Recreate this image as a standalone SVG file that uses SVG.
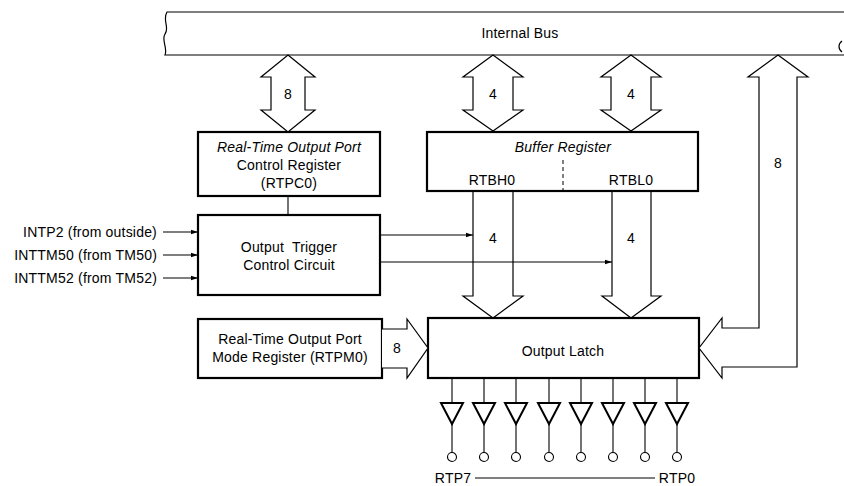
<svg xmlns="http://www.w3.org/2000/svg" xmlns:xlink="http://www.w3.org/1999/xlink" width="844" height="486" viewBox="0 0 844 486">
<style>
text{font-family:"Liberation Sans",Arial,sans-serif;font-size:14px;letter-spacing:0.2px;fill:#000}
.c{text-anchor:middle}
.r{text-anchor:end}
.i{font-style:italic}
.box{fill:#fff;stroke:#000;stroke-width:2.2}
.arw{fill:#fff;stroke:#000;stroke-width:1.2;stroke-linejoin:miter}
.ln{fill:none;stroke:#000;stroke-width:1.1}
.bus{fill:none;stroke:#000;stroke-width:1.2}
</style>
<defs>
<marker id="ah" markerWidth="8" markerHeight="6" refX="7" refY="3" orient="auto" markerUnits="userSpaceOnUse">
<path d="M0,0.8 L7,3 L0,5.2 Z" fill="#000"/>
</marker>
<g id="buf">
<line x1="0" y1="378" x2="0" y2="403" class="ln"/>
<path d="M-11,403 L11,403 L0,424 Z" fill="#fff" stroke="#000" stroke-width="2"/>
<line x1="0" y1="424" x2="0" y2="452.5" class="ln"/>
<circle cx="0" cy="457" r="4.5" fill="#fff" stroke="#000" stroke-width="1.1"/>
</g>
</defs>

<g id="internal-bus">
<path class="bus" d="M844,12 L167,12 C162,20 170,28 165,34 C161,40 168,48 165,55 L844,55"/>
<path class="bus" d="M842,41 C838,44 838,49 842,52"/>
<text class="c" x="520" y="38">Internal Bus</text>
</g>

<g id="rtpc0">
<rect class="box" x="198" y="132" width="182" height="64"/>
<text class="c i" x="289" y="152">Real-Time Output Port</text>
<text class="c" x="289" y="170">Control Register</text>
<text class="c" x="289" y="188">(RTPC0)</text>
</g>

<g id="trigger">
<rect class="box" x="198" y="215" width="182" height="80"/>
<text class="c" x="289" y="252" xml:space="preserve">Output  Trigger</text>
<text class="c" x="289" y="270">Control Circuit</text>
</g>

<g id="inputs">
<text class="r" x="157" y="237">INTP2 (from outside)</text>
<text class="r" x="157" y="260">INTTM50 (from TM50)</text>
<text class="r" x="157" y="283">INTTM52 (from TM52)</text>
</g>

<g id="buffer-register">
<rect class="box" x="427" y="132" width="271" height="59"/>
<text class="c i" x="563" y="152">Buffer Register</text>
<text class="c" x="492" y="185">RTBH0</text>
<text class="c" x="631" y="185">RTBL0</text>
<line x1="563" y1="160" x2="563" y2="191" stroke="#000" stroke-width="1" stroke-dasharray="4,3"/>
</g>

<g id="rtpm0">
<rect class="box" x="198" y="319" width="184" height="59"/>
<text class="c" x="290" y="344">Real-Time Output Port</text>
<text class="c" x="290" y="362">Mode Register (RTPM0)</text>
</g>

<g id="output-latch">
<rect class="box" x="428" y="318" width="271" height="60"/>
<text class="c" x="563" y="356">Output Latch</text>
</g>

<g id="connectors">
<path class="arw" d="M288,55 L315,77 L305,77 L305,110 L315,110 L288,132 L261,110 L271,110 L271,77 L261,77 Z"/>
<text class="c" x="288" y="99">8</text>
<path class="arw" d="M493,55 L523,77 L513,77 L513,110 L523,110 L493,131 L463,110 L473,110 L473,77 L463,77 Z"/>
<text class="c" x="493" y="99">4</text>
<path class="arw" d="M631,55 L661,77 L651,77 L651,110 L661,110 L631,131 L601,110 L611,110 L611,77 L601,77 Z"/>
<text class="c" x="631" y="99">4</text>
<path class="arw" d="M778,55 L808,77 L797,77 L797,367 L722,367 L722,378 L699,348 L722,318 L722,328 L759,328 L759,77 L748,77 Z"/>
<text class="c" x="778" y="168">8</text>
<path class="arw" style="fill:none" d="M473,191 L473,296 L463,296 L493,318 L523,296 L513,296 L513,191"/>
<path class="arw" style="fill:none" d="M612,191 L612,296 L602,296 L631,318 L661,296 L651,296 L651,191"/>
<text class="c" x="493" y="243">4</text>
<text class="c" x="631" y="243">4</text>
<path class="arw" d="M382,329 L407,329 L407,319 L428,348 L407,378 L407,368 L382,368"/>
<text class="c" x="397" y="353">8</text>
<line class="ln" x1="288" y1="196" x2="288" y2="215"/>
<line class="ln" x1="163" y1="232" x2="198" y2="232" marker-end="url(#ah)"/>
<line class="ln" x1="163" y1="255" x2="198" y2="255" marker-end="url(#ah)"/>
<line class="ln" x1="163" y1="278" x2="198" y2="278" marker-end="url(#ah)"/>
<line class="ln" x1="380" y1="235" x2="473" y2="235" marker-end="url(#ah)"/>
<line class="ln" x1="380" y1="262" x2="612" y2="262" marker-end="url(#ah)"/>
</g>

<g id="output-buffers">
<use xlink:href="#buf" x="452"/>
<use xlink:href="#buf" x="484"/>
<use xlink:href="#buf" x="516"/>
<use xlink:href="#buf" x="549"/>
<use xlink:href="#buf" x="581"/>
<use xlink:href="#buf" x="613"/>
<use xlink:href="#buf" x="645"/>
<use xlink:href="#buf" x="677"/>
<text class="c" x="453" y="483">RTP7</text>
<text class="c" x="677" y="483">RTP0</text>
<line class="ln" x1="475" y1="478" x2="655" y2="478"/>
</g>
</svg>
